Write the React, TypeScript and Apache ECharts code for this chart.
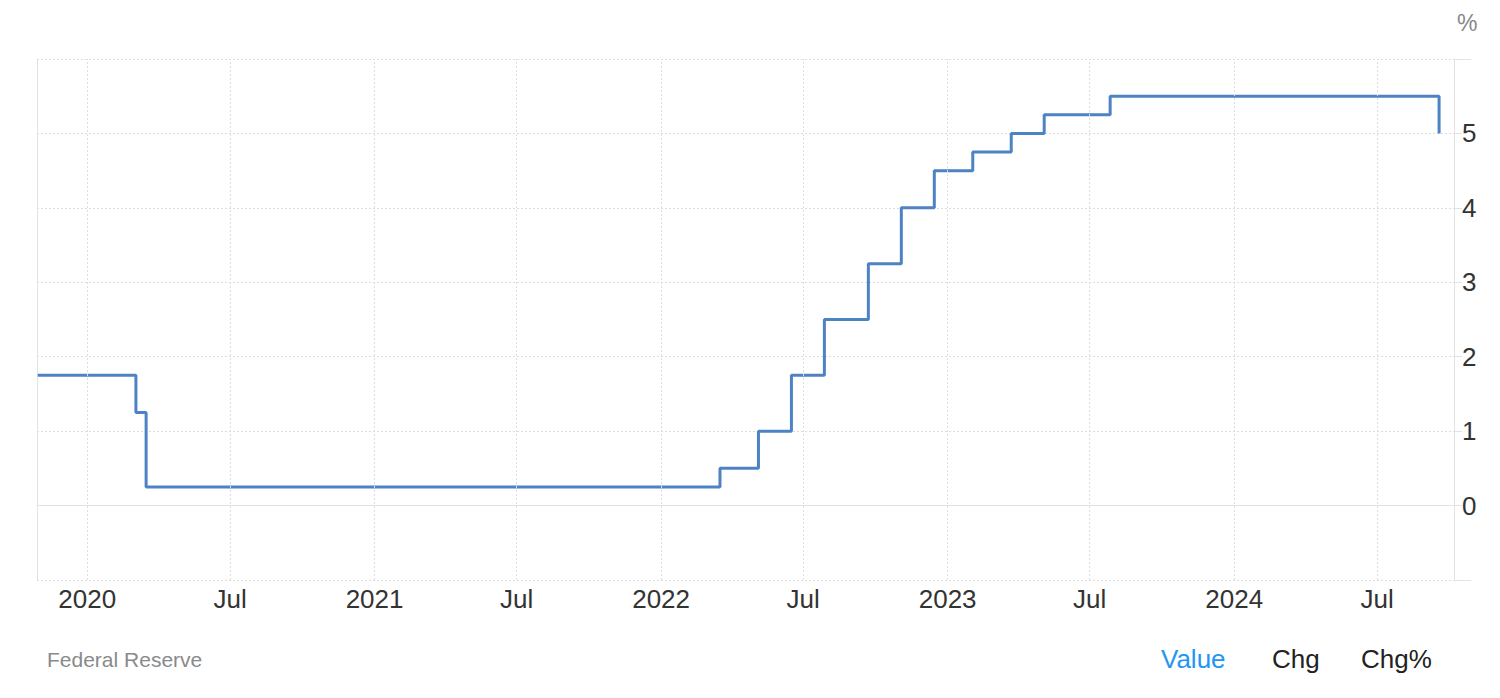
import React, { useEffect, useRef } from "react";
import * as echarts from "echarts";

// Federal funds target rate (upper bound), %
const rateDates: string[] = [
  "2019-10-30",
  "2020-03-03",
  "2020-03-16",
  "2022-03-17",
  "2022-05-05",
  "2022-06-16",
  "2022-07-28",
  "2022-09-22",
  "2022-11-03",
  "2022-12-15",
  "2023-02-02",
  "2023-03-23",
  "2023-05-04",
  "2023-07-27",
  "2024-09-18",
];
const rateValues: number[] = [
  1.75, 1.25, 0.25, 0.5, 1.0, 1.75, 2.5, 3.25, 4.0, 4.5, 4.75, 5.0, 5.25, 5.5, 5.0,
];

const xTickDates: string[] = [
  "2020-01-01",
  "2020-07-01",
  "2021-01-01",
  "2021-07-01",
  "2022-01-01",
  "2022-07-01",
  "2023-01-01",
  "2023-07-01",
  "2024-01-01",
  "2024-07-01",
];
const xMin = "2019-10-29";
const xMax = "2024-10-07";
const yMin = -1;
const yMax = 6;
const yInterval = 1;
const yLabelsShown: number[] = [0, 1, 2, 3, 4, 5];

const sourceText = "Federal Reserve";
const unitText = "%";
const tabs: string[] = ["Value", "Chg", "Chg%"];

const FONT = "'Liberation Sans', Arial, Helvetica, sans-serif";

function ts(d: string): number {
  const [y, m, day] = d.split("-").map(Number);
  return Date.UTC(y, m - 1, day);
}

export default function App() {
  const ref = useRef<HTMLDivElement>(null);

  useEffect(() => {
    if (!ref.current) return;
    const chart = echarts.init(ref.current, undefined, { renderer: "svg" });
    const tickTs = xTickDates.map(ts);
    const data = rateDates.map((d, i) => [ts(d), rateValues[i]]);

    chart.setOption({
      animation: false,
      backgroundColor: "#ffffff",
      grid: { left: 37, right: 46, top: 59, bottom: 118, containLabel: false },
      xAxis: {
        type: "value",
        min: ts(xMin),
        max: ts(xMax),
        axisLine: { show: true, lineStyle: { color: "#e3e3e3", width: 1 } },
        axisTick: { show: false },
        axisLabel: {
          customValues: tickTs,
          color: "#333333",
          fontSize: 26,
          fontFamily: FONT,
          margin: 6,
          formatter: (v: number) => {
            const d = new Date(v);
            return d.getUTCMonth() === 0 ? String(d.getUTCFullYear()) : "Jul";
          },
        },
        splitLine: { show: false },
      },
      yAxis: [
        {
          type: "value",
          position: "right",
          min: yMin,
          max: yMax,
          interval: yInterval,
          axisLine: { show: true, lineStyle: { color: "#e3e3e3", width: 1 } },
          axisTick: { show: true, length: 8, lineStyle: { color: "#e3e3e3" } },
          axisLabel: {
            color: "#333333",
            fontSize: 26,
            fontFamily: FONT,
            margin: 8,
            padding: [0, 0, 10, 0],
            formatter: (v: number) => (yLabelsShown.includes(v) ? String(v) : ""),
          },
          splitLine: { show: true, lineStyle: { color: "#dddddd", type: [2, 2], width: 1 } },
        },
        {
          type: "value",
          position: "left",
          min: yMin,
          max: yMax,
          interval: yInterval,
          axisLine: { show: true, lineStyle: { color: "#e3e3e3", width: 1 } },
          axisTick: { show: false },
          axisLabel: { show: false },
          splitLine: { show: false },
        },
      ],
      series: [
        {
          type: "line",
          step: "end",
          data,
          yAxisIndex: 0,
          showSymbol: false,
          symbol: "none",
          lineStyle: { color: "#4d82c4", width: 3 },
          markLine: {
            silent: true,
            symbol: "none",
            label: { show: false },
            lineStyle: { color: "#dddddd", type: [2, 2], width: 1 },
            data: tickTs.map((t) => ({ xAxis: t })),
          },
        },
      ],
      graphic: [
        {
          type: "line",
          shape: { x1: 1454, y1: 59.5, x2: 1471, y2: 59.5 },
          style: { stroke: "#e3e3e3", lineWidth: 1 },
        },
        {
          type: "line",
          shape: { x1: 1454, y1: 580.5, x2: 1471, y2: 580.5 },
          style: { stroke: "#e3e3e3", lineWidth: 1 },
        },
        {
          type: "text",
          x: 1457,
          y: 23,
          style: { text: unitText, fill: "#888888", fontSize: 23, fontFamily: FONT, verticalAlign: "middle" },
        },
        {
          type: "text",
          x: 47,
          y: 659,
          style: { text: sourceText, fill: "#8a8a8a", fontSize: 21, fontFamily: FONT, verticalAlign: "middle" },
        },
        {
          type: "text",
          x: 1161,
          y: 659,
          style: { text: tabs[0], fill: "#2196f3", fontSize: 26, fontFamily: FONT, verticalAlign: "middle" },
        },
        {
          type: "text",
          x: 1272,
          y: 659,
          style: { text: tabs[1], fill: "#222222", fontSize: 26, fontFamily: FONT, verticalAlign: "middle" },
        },
        {
          type: "text",
          x: 1361,
          y: 659,
          style: { text: tabs[2], fill: "#222222", fontSize: 26, fontFamily: FONT, verticalAlign: "middle" },
        },
      ],
    });

    return () => chart.dispose();
  }, []);

  return (
    <div
      ref={ref}
      style={{ position: "fixed", left: 0, top: 0, width: 1500, height: 698 }}
    />
  );
}
